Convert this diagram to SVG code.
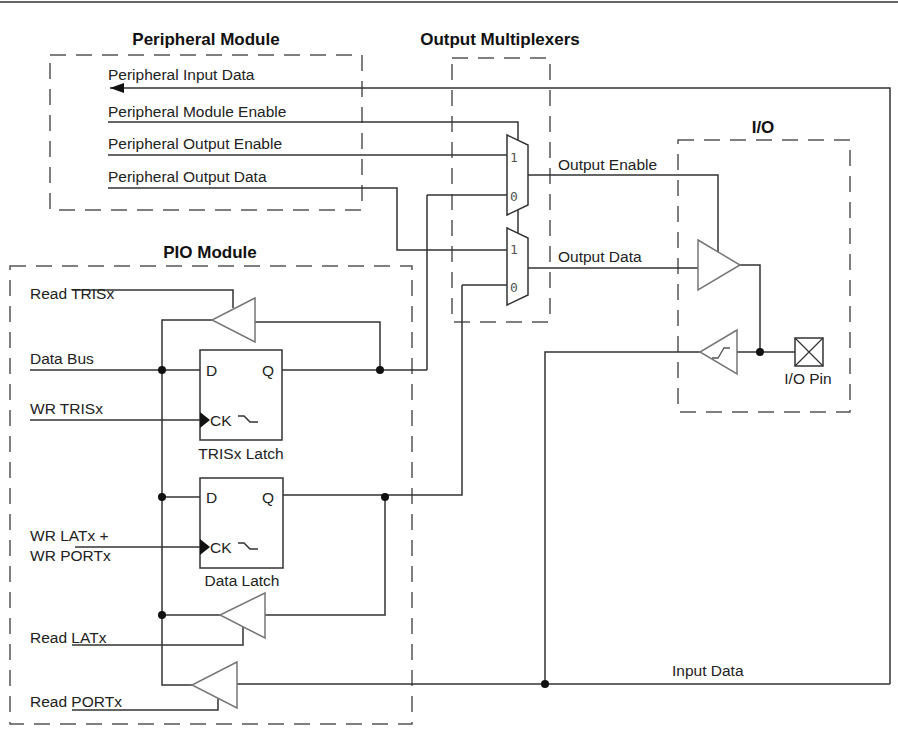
<svg xmlns="http://www.w3.org/2000/svg" width="898" height="734" viewBox="0 0 898 734">
<style>
text{font-family:"Liberation Sans",Arial,sans-serif;font-size:15.5px;fill:#222}
.t{font-weight:bold;font-size:17px;fill:#111}
.w{fill:none;stroke:#333;stroke-width:1.5}
.b{fill:#fff;stroke:#777;stroke-width:1.5}
.d{fill:none;stroke:#555;stroke-width:1.5;stroke-dasharray:16 10}
.m{font-family:"DejaVu Sans Mono",monospace;font-size:13px;fill:#555}
</style>
<defs><marker id="ah" markerWidth="14" markerHeight="10" refX="14" refY="5" orient="auto" markerUnits="userSpaceOnUse"><path d="M0,0 L14,5 L0,10z" fill="#111"/></marker></defs>
<line x1="0" y1="2" x2="898" y2="2" stroke="#666" stroke-width="2"/>
<g id="boxes">
<rect class="d" x="50" y="55" width="312" height="155"/>
<rect class="d" x="452" y="58" width="98" height="264"/>
<rect class="d" x="678" y="140" width="172" height="272"/>
<rect class="d" x="10" y="266" width="402" height="458"/>
<text class="t" x="206" y="45" text-anchor="middle">Peripheral Module</text>
<text class="t" x="500" y="45" text-anchor="middle">Output Multiplexers</text>
<text class="t" x="763" y="133" text-anchor="middle">I/O</text>
<text class="t" x="210" y="258" text-anchor="middle">PIO Module</text>
</g>
<g id="connectors">
<path class="w" d="M890,684 V88 H110" marker-end="url(#ah)"/>
<path class="w" d="M108,122 H518 V140"/>
<path class="w" d="M108,155 H507"/>
<path class="w" d="M108,188 H397 V250 H507"/>
<path class="w" d="M518,210 V233"/>
<path class="w" d="M528,175 H718 V252"/>
<path class="w" d="M528,268 H698"/>
<path class="w" d="M740,265 H760 V352"/>
<path class="w" d="M737,352 H795"/>
<path class="w" d="M700,352 H545 V684"/>
<path class="w" d="M890,684 H237"/>
<path class="w" d="M427,195 H507 M427,195 V370"/>
<path class="w" d="M462,285 H507 M462,285 V495 H283"/>
<path class="w" d="M72,290 H233 V308"/>
<path class="w" d="M212,320 H162 V685 H192"/>
<path class="w" d="M255,322 H380 V370"/>
<path class="w" d="M30,370 H200 M282,370 H427"/>
<path class="w" d="M30,420 H200"/>
<path class="w" d="M162,497 H200"/>
<path class="w" d="M385,497 V615 H265"/>
<path class="w" d="M220,615 H162"/>
<path class="w" d="M72,645 H243 V627"/>
<path class="w" d="M72,710 H218 V697"/>
<path class="w" d="M75,547 H200"/>
<g fill="#111"><circle cx="162" cy="370" r="4"/><circle cx="380" cy="370" r="4"/><circle cx="162" cy="497" r="4"/><circle cx="385" cy="497" r="4"/><circle cx="162" cy="615" r="4"/><circle cx="545" cy="684" r="4"/><circle cx="760" cy="352" r="4"/></g>
<text x="108" y="80">Peripheral Input Data</text>
<text x="108" y="117">Peripheral Module Enable</text>
<text x="108" y="149">Peripheral Output Enable</text>
<text x="108" y="182">Peripheral Output Data</text>
<text x="558" y="170">Output Enable</text>
<text x="558" y="262">Output Data</text>
<text x="672" y="676">Input Data</text>
<text x="30" y="299">Read TRISx</text>
<text x="30" y="364">Data Bus</text>
<text x="30" y="414">WR TRISx</text>
<text x="30" y="541">WR LATx +</text>
<text x="30" y="561">WR PORTx</text>
<text x="30" y="643">Read LATx</text>
<text x="30" y="707">Read PORTx</text>
</g>
<g id="mux1"><path class="w" d="M507,135 L528,145 V205 L507,215z" fill="#fff"/><text class="m" x="510" y="162">1</text><text class="m" x="510" y="201">0</text></g>
<g id="mux2"><path class="w" d="M507,228 L528,238 V295 L507,305z" fill="#fff"/><text class="m" x="510" y="254">1</text><text class="m" x="510" y="292">0</text></g>
<g id="outbuf"><path class="b" d="M698,240 L740,265 L698,290z"/></g>
<g id="inbuf"><path class="b" d="M737,330 L700,352 L737,374z"/><path d="M712,358 h6 l6,-10 h6" fill="none" stroke="#555" stroke-width="1.3"/></g>
<g id="pin"><rect x="795" y="338" width="28" height="28" fill="#fff" stroke="#333" stroke-width="1.5"/><path d="M795,338 L823,366 M823,338 L795,366" stroke="#333" stroke-width="1.2"/><text x="808" y="384" text-anchor="middle">I/O Pin</text></g>
<g id="tris-buf"><path class="b" d="M255,298 L212,320 L255,342z"/></g>
<g id="tris-latch"><rect x="200" y="350" width="82" height="90" fill="#fff" stroke="#333" stroke-width="1.5"/><text x="206" y="376">D</text><text x="262" y="376">Q</text><path d="M200,412 L210,420 L200,428z" fill="#111"/><text x="210" y="426">CK</text><path d="M238,416 h6 l6,6 h8" fill="none" stroke="#333" stroke-width="1.5"/><text x="241" y="459" text-anchor="middle">TRISx Latch</text></g>
<g id="data-latch"><rect x="200" y="478" width="83" height="90" fill="#fff" stroke="#333" stroke-width="1.5"/><text x="206" y="503">D</text><text x="262" y="503">Q</text><path d="M200,539 L210,547 L200,555z" fill="#111"/><text x="210" y="553">CK</text><path d="M238,543 h6 l6,6 h8" fill="none" stroke="#333" stroke-width="1.5"/><text x="242" y="586" text-anchor="middle">Data Latch</text></g>
<g id="lat-buf"><path class="b" d="M265,593 L220,615 L265,638z"/></g>
<g id="port-buf"><path class="b" d="M237,662 L192,685 L237,708z"/></g>
</svg>
